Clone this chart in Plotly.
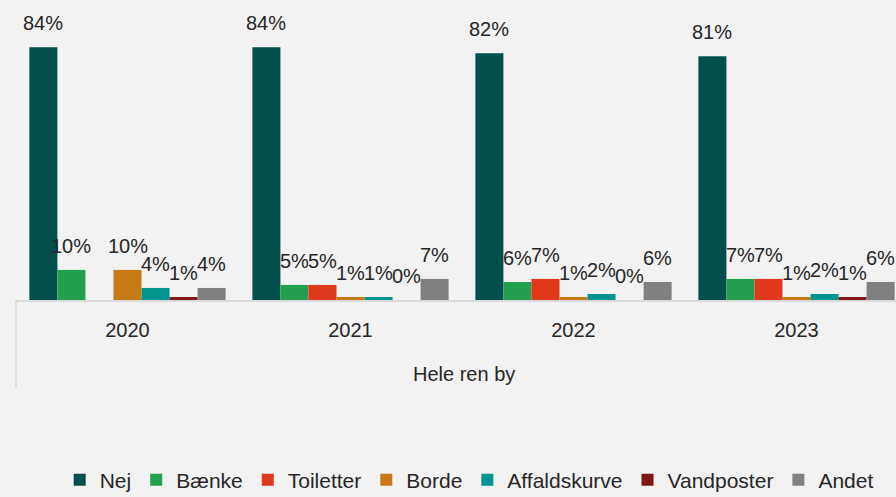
import plotly.graph_objects as go

years = ["2020", "2021", "2022", "2023"]
group_label = "Hele ren by"
series_names = ["Nej", "Bænke", "Toiletter", "Borde", "Affaldskurve", "Vandposter", "Andet"]
nej = [84, 84, 82, 81]
baenke = [10, 5, 6, 7]
toiletter = [None, 5, 7, 7]
borde = [10, 1, 1, 1]
affaldskurve = [4, 1, 2, 2]
vandposter = [1, 0, 0, 1]
andet = [4, 7, 6, 6]
colors = ["#01504C", "#22A050", "#E0381A", "#C67A16", "#03948F", "#7F1714", "#808080"]

series_values = [nej, baenke, toiletter, borde, affaldskurve, vandposter, andet]

FONT = "Liberation Sans"
TXT = "#262626"
BARGAP = 0.12

fig = go.Figure()
for name, vals, col in zip(series_names, series_values, colors):
    fig.add_trace(go.Bar(
        name=name, x=years, y=vals, marker_color=col,
        marker_line_width=0,
    ))

# data labels above each bar, placed via the axis scales
n = len(series_names)
w = (1 - BARGAP) / n
annotations = []
for i, vals in enumerate(series_values):
    off = -(1 - BARGAP) / 2 + w * (i + 0.5)
    for j, v in enumerate(vals):
        if v is None:
            continue
        annotations.append(dict(
            x=j + off, y=v, xref="x", yref="y", text=f"{v}%",
            showarrow=False, yanchor="middle", yshift=24,
            font=dict(family=FONT, size=20, color=TXT),
        ))

annotations.append(dict(
    x=0.509, y=-0.247, xref="paper", yref="paper", text=group_label,
    showarrow=False, xanchor="center", yanchor="middle",
    font=dict(family=FONT, size=20, color=TXT),
))

fig.update_layout(
    width=896, height=497,
    margin=dict(l=16, r=0, t=0, b=197, autoexpand=False),
    paper_bgcolor="#F2F2F2", plot_bgcolor="#F2F2F2",
    barmode="group", bargap=BARGAP, bargroupgap=0,
    font=dict(family=FONT, size=20, color=TXT),
    showlegend=True,
    legend=dict(orientation="h", x=0.515, xanchor="center", y=-0.6, yanchor="middle",
                font=dict(family=FONT, size=21, color=TXT), bgcolor="rgba(0,0,0,0)",
                itemwidth=30, tracegroupgap=0),
    annotations=annotations,
    shapes=[dict(type="line", xref="paper", yref="paper", x0=0, x1=0, y0=0, y1=-0.293,
                 line=dict(color="#D9D9D9", width=1.5))],
)
fig.update_xaxes(type="category", range=[-0.5, -0.5 + 880 / 223], showline=True,
                 linecolor="#D9D9D9", linewidth=1.5, ticks="", showgrid=False,
                 ticklabelstandoff=11, tickfont=dict(family=FONT, size=20, color=TXT))
fig.update_yaxes(range=[0, 99.7], visible=False, showgrid=False, zeroline=False)

fig.write_html("out.html", config={"displayModeBar": False})

with open("out.html", "r", encoding="utf-8") as f:
    html = f.read()
html = html.replace("<body>", '<body style="margin:0;padding:0;background:#F2F2F2;overflow:hidden">', 1)
with open("out.html", "w", encoding="utf-8") as f:
    f.write(html)
